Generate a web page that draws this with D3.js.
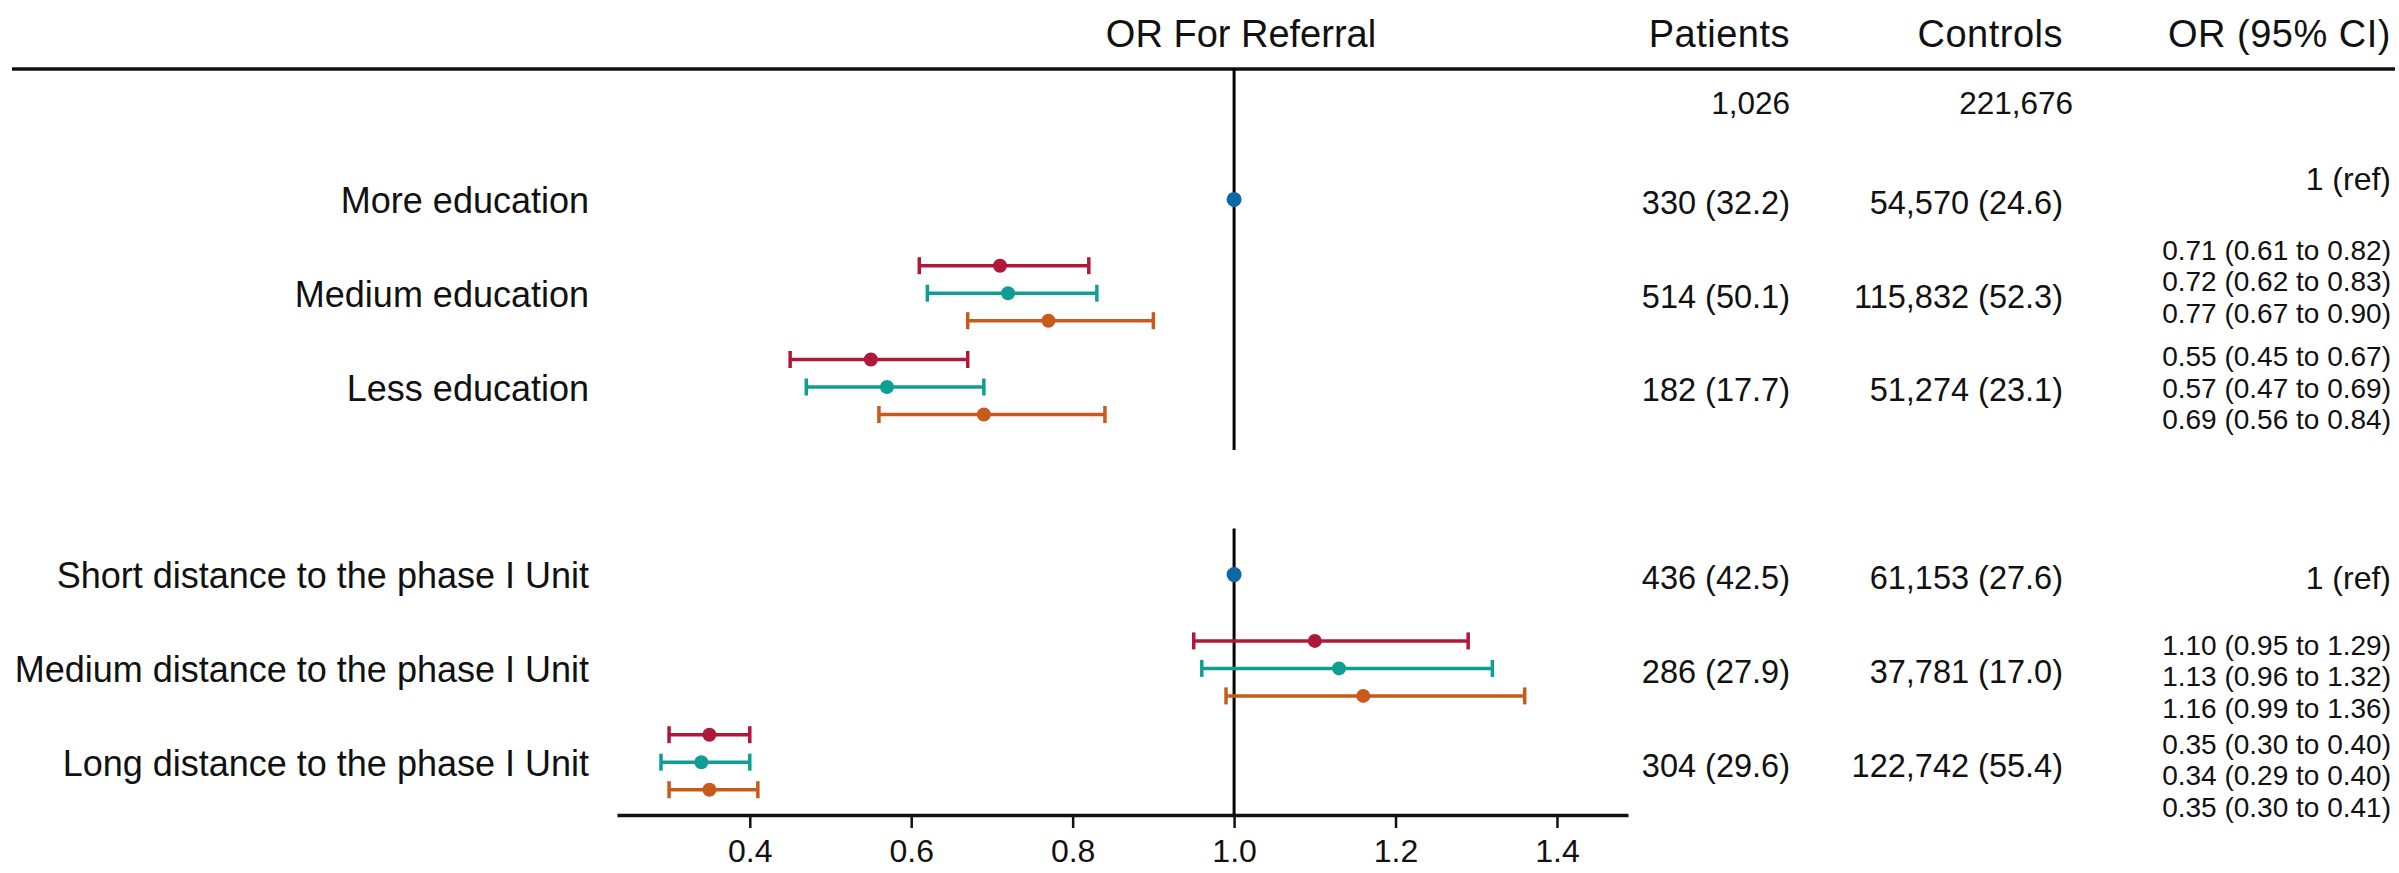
<!DOCTYPE html>
<html>
<head>
<meta charset="utf-8">
<script src="https://cdn.jsdelivr.net/npm/d3@7"></script>
<style>
  body { margin: 0; background: #fff; }
  text { font-family: "Liberation Sans", Arial, sans-serif; fill: #111; }
</style>
</head>
<body>
<div id="chart"></div>
<script>
// ---- data ----
const rowLabels = [
  "More education",
  "Medium education",
  "Less education",
  "Short distance to the phase I Unit",
  "Medium distance to the phase I Unit",
  "Long distance to the phase I Unit"
];
const rowSlots = [0, 1, 2, 4, 5, 6];          // blank slot between the two groups
const patients = ["330 (32.2)", "514 (50.1)", "182 (17.7)", "436 (42.5)", "286 (27.9)", "304 (29.6)"];
const controls = ["54,570 (24.6)", "115,832 (52.3)", "51,274 (23.1)", "61,153 (27.6)", "37,781 (17.0)", "122,742 (55.4)"];
const totals = ["1,026", "221,676"];
const refRows = [0, 3];                       // reference categories, OR = 1
const compRows = [1, 2, 4, 5];
const seriesNames = ["Model 1", "Model 2", "Model 3"];
// [OR, lower, upper] per compared row
const model1 = [[0.71, 0.61, 0.82], [0.55, 0.45, 0.67], [1.10, 0.95, 1.29], [0.35, 0.30, 0.40]];
const model2 = [[0.72, 0.62, 0.83], [0.57, 0.47, 0.69], [1.13, 0.96, 1.32], [0.34, 0.29, 0.40]];
const model3 = [[0.77, 0.67, 0.90], [0.69, 0.56, 0.84], [1.16, 0.99, 1.36], [0.35, 0.30, 0.41]];
const xTicks = [0.4, 0.6, 0.8, 1.0, 1.2, 1.4];
const headers = ["OR For Referral", "Patients", "Controls", "OR (95% CI)"];

// ---- layout ----
const W = 2399, H = 873;
const colors = ["#b0183a", "#0f9e94", "#c95a1c"];
const refColor = "#0b6aa6";
const RULE_Y = 69, AXIS_Y = 815;
const COL_PAT = 1790, COL_CTL = 2063, COL_OR = 2391, LABEL_X = 589;
// the OR text blocks do not sit exactly on the row centres in the original
const orShift = [-21, -12, 1, 3, 8, 13];

const svg = d3.select("#chart").append("svg")
  .attr("width", W).attr("height", H);

const x = d3.scaleLinear().domain([0.2355, 1.488]).range([617, 1628]);
const y = d3.scaleLinear().domain([0, 6]).range([199.4, 762.2]);
const off = d3.scalePoint().domain(seriesNames).range([-27.5, 27.5]);

// header
svg.append("text").attr("x", 1241).attr("y", 47).attr("text-anchor", "middle")
  .style("font-size", "38px").text(headers[0]);
[[COL_PAT, headers[1]], [COL_CTL, headers[2]], [COL_OR, headers[3]]].forEach(([cx, t]) => {
  svg.append("text").attr("x", cx).attr("y", 47).attr("text-anchor", "end")
    .style("font-size", "38px").style("letter-spacing", "0.5px").text(t);
});
svg.append("line").attr("x1", 12).attr("x2", 2395).attr("y1", RULE_Y).attr("y2", RULE_Y)
  .attr("stroke", "#111").attr("stroke-width", 3.5);

// totals row
svg.append("text").attr("x", COL_PAT).attr("y", y(-1) - 3).attr("dy", "0.35em")
  .attr("text-anchor", "end").style("font-size", "31.5px").text(totals[0]);
svg.append("text").attr("x", COL_CTL + 10).attr("y", y(-1) - 3).attr("dy", "0.35em")
  .attr("text-anchor", "end").style("font-size", "31.5px").text(totals[1]);

// reference lines at OR = 1
const vline = svg.append("g").attr("stroke", "#000").attr("stroke-width", 3);
vline.append("line").attr("x1", x(1)).attr("x2", x(1))
  .attr("y1", RULE_Y).attr("y2", y(rowSlots[2]) + 63);
vline.append("line").attr("x1", x(1)).attr("x2", x(1))
  .attr("y1", y(rowSlots[3]) - 46).attr("y2", AXIS_Y);

// x axis
const axis = svg.append("g").attr("transform", `translate(0,${AXIS_Y})`)
  .call(d3.axisBottom(x).tickValues(xTicks).tickFormat(d3.format(".1f"))
    .tickSize(13).tickSizeOuter(0).tickPadding(11));
axis.select(".domain").attr("stroke", "#111").attr("stroke-width", 3.5);
axis.selectAll(".tick line").attr("stroke", "#111").attr("stroke-width", 2.5);
axis.selectAll(".tick text").style("font-size", "32px")
  .style("font-family", "'Liberation Sans', Arial, sans-serif").attr("fill", "#111");

// row labels and counts
rowLabels.forEach((lab, i) => {
  const cy = y(rowSlots[i]);
  svg.append("text").attr("x", LABEL_X).attr("y", cy + 1).attr("dy", "0.35em")
    .attr("text-anchor", "end").style("font-size", "36px").text(lab);
  svg.append("text").attr("x", COL_PAT).attr("y", cy + 3).attr("dy", "0.35em")
    .attr("text-anchor", "end").style("font-size", "32.5px").text(patients[i]);
  svg.append("text").attr("x", COL_CTL).attr("y", cy + 3).attr("dy", "0.35em")
    .attr("text-anchor", "end").style("font-size", "32.5px").text(controls[i]);
});

// reference points
refRows.forEach(r => {
  const cy = y(rowSlots[r]);
  svg.append("circle").attr("cx", x(1)).attr("cy", cy).attr("r", 7.5).attr("fill", refColor);
  svg.append("text").attr("x", COL_OR).attr("y", cy + orShift[r]).attr("dy", "0.35em")
    .attr("text-anchor", "end").style("font-size", "32px").text("1 (ref)");
});

// estimates with confidence intervals
const fmt = d3.format(".2f");
[model1, model2, model3].forEach((model, s) => {
  const g = svg.append("g").attr("stroke", colors[s]).attr("fill", colors[s]);
  model.forEach(([est, lo, hi], k) => {
    const r = compRows[k];
    const cy = y(rowSlots[r]) + off(seriesNames[s]);
    g.append("line").attr("x1", x(lo)).attr("x2", x(hi)).attr("y1", cy).attr("y2", cy)
      .attr("stroke-width", 3.5);
    [lo, hi].forEach(v => g.append("line").attr("x1", x(v)).attr("x2", x(v))
      .attr("y1", cy - 8.5).attr("y2", cy + 8.5).attr("stroke-width", 3.5));
    g.append("circle").attr("cx", x(est)).attr("cy", cy).attr("r", 7).attr("stroke", "none");

    svg.append("text").attr("x", COL_OR)
      .attr("y", y(rowSlots[r]) + orShift[r] + (s - 1) * 31.5).attr("dy", "0.35em")
      .attr("text-anchor", "end").style("font-size", "28px")
      .text(`${fmt(est)} (${fmt(lo)} to ${fmt(hi)})`);
  });
});
</script>
</body>
</html>
